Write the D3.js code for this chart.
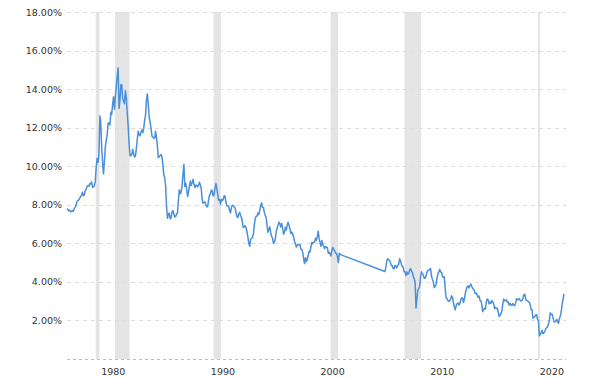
<!DOCTYPE html>
<html>
<head>
<meta charset="utf-8">
<script src="https://cdn.jsdelivr.net/npm/d3@7"></script>
<style>
  body { margin: 0; background: #fff; }
  text { font-family: "DejaVu Sans", Verdana, sans-serif; font-size: 9.5px; fill: #333; }
</style>
</head>
<body>
<div id="container"></div>
<script>
/**
 * CONSTANTS AND DATA
 * */
const width = 600,
  height = 378;

// 30 year treasury yield, monthly, Feb 1977 -> Feb 2002
const yieldsEarly = [
  7.80, 7.76, 7.68, 7.72, 7.64, 7.66, 7.70, 7.66, 7.80, 7.88, 7.98,          // 1977
  8.18, 8.22, 8.25, 8.34, 8.43, 8.50, 8.65, 8.47, 8.50, 8.75, 8.80, 8.95,    // 1978
  9.00, 8.96, 9.10, 9.08, 9.19, 8.91, 8.92, 9.00, 9.20, 9.95, 10.40, 10.20,  // 1979
  10.60, 12.60, 12.30, 11.00, 10.20, 9.60, 10.24, 11.00, 11.34, 11.65, 12.23, 12.25, // 1980
  12.14, 12.80, 12.69, 13.20, 13.60, 12.96, 13.59, 14.17, 14.67, 15.10, 13.00, 13.45, // 1981
  14.22, 14.22, 13.53, 13.37, 13.24, 13.92, 13.55, 12.77, 12.07, 11.17, 10.54, 10.54, // 1982
  10.63, 10.88, 10.63, 10.48, 10.53, 10.93, 11.40, 11.82, 11.63, 11.58, 11.75, 11.88, // 1983
  11.75, 11.95, 12.38, 12.65, 13.45, 13.75, 13.21, 12.54, 12.29, 11.98, 11.56, 11.52, // 1984
  11.45, 11.47, 11.81, 11.47, 11.05, 10.44, 10.50, 10.56, 10.61, 10.50, 10.06, 9.54,  // 1985
  9.40, 8.93, 7.96, 7.30, 7.52, 7.57, 7.27, 7.33, 7.62, 7.70, 7.52, 7.37,    // 1986
  7.39, 7.54, 7.55, 8.25, 8.78, 8.57, 8.64, 8.97, 9.59, 10.10, 8.95, 9.12,   // 1987
  8.83, 8.43, 8.63, 8.95, 9.23, 9.00, 9.14, 9.32, 9.06, 8.89, 9.02, 9.01,    // 1988
  8.93, 9.01, 9.17, 9.03, 8.83, 8.27, 8.08, 8.12, 8.15, 8.00, 7.90, 7.90,    // 1989
  8.26, 8.50, 8.56, 8.76, 8.73, 8.46, 8.50, 8.86, 9.10, 8.86, 8.54, 8.24,    // 1990
  8.27, 8.03, 8.29, 8.21, 8.27, 8.47, 8.45, 8.14, 7.95, 7.93, 7.92, 7.70,    // 1991
  7.58, 7.85, 7.97, 7.96, 7.89, 7.84, 7.60, 7.39, 7.34, 7.53, 7.61, 7.44,    // 1992
  7.34, 7.09, 6.82, 6.85, 6.92, 6.81, 6.63, 6.32, 6.00, 5.85, 6.21, 6.25,    // 1993
  6.29, 6.49, 6.91, 7.27, 7.41, 7.40, 7.58, 7.49, 7.71, 7.94, 8.10, 7.87,    // 1994
  7.85, 7.61, 7.45, 7.36, 6.95, 6.57, 6.72, 6.86, 6.55, 6.37, 6.26, 6.00,    // 1995
  6.05, 6.24, 6.60, 6.79, 6.93, 7.10, 7.03, 6.84, 7.03, 6.81, 6.48, 6.55,    // 1996
  6.83, 6.69, 6.93, 7.09, 6.94, 6.77, 6.51, 6.58, 6.50, 6.33, 6.11, 5.99,    // 1997
  5.81, 5.89, 5.95, 5.92, 5.93, 5.70, 5.68, 5.54, 5.20, 4.95, 5.25, 5.06,    // 1998
  5.16, 5.37, 5.58, 5.55, 5.81, 6.04, 5.98, 6.07, 6.07, 6.26, 6.15, 6.35,    // 1999
  6.63, 6.23, 6.05, 5.85, 6.15, 5.93, 5.85, 5.72, 5.83, 5.80, 5.78, 5.49,    // 2000
  5.54, 5.45, 5.34, 5.65, 5.78, 5.67, 5.61, 5.48, 5.48, 5.32, 5.00, 5.48,    // 2001
  5.45, 5.40                                                                 // 2002
];

// monthly, Feb 2006 -> Jun 2022 (series was not issued in between)
const yieldsLate = [
  4.54, 4.73, 5.06, 5.20, 5.15, 5.13, 5.00, 4.85, 4.85, 4.69, 4.68,          // 2006
  4.85, 4.82, 4.72, 4.87, 4.90, 5.20, 5.11, 4.93, 4.79, 4.77, 4.52, 4.53,    // 2007
  4.33, 4.52, 4.39, 4.44, 4.60, 4.69, 4.57, 4.50, 4.27, 4.17, 4.00, 2.65,    // 2008
  3.13, 3.59, 3.64, 3.76, 4.23, 4.52, 4.41, 4.37, 4.19, 4.19, 4.31, 4.49,    // 2009
  4.60, 4.62, 4.64, 4.69, 4.29, 4.13, 3.99, 3.70, 3.77, 3.87, 4.19, 4.42,    // 2010
  4.52, 4.65, 4.51, 4.50, 4.29, 4.23, 4.27, 3.65, 3.18, 3.13, 3.02, 2.98,    // 2011
  3.03, 3.11, 3.28, 3.18, 2.93, 2.70, 2.55, 2.77, 2.88, 2.90, 2.80, 2.88,    // 2012
  3.08, 3.17, 3.16, 2.93, 3.11, 3.40, 3.61, 3.76, 3.79, 3.68, 3.80, 3.89,    // 2013
  3.77, 3.66, 3.62, 3.52, 3.39, 3.42, 3.33, 3.20, 3.26, 3.04, 3.04, 2.83,    // 2014
  2.46, 2.57, 2.63, 2.59, 2.96, 3.11, 3.07, 2.86, 2.95, 2.89, 3.03, 2.97,    // 2015
  2.86, 2.62, 2.68, 2.62, 2.63, 2.45, 2.20, 2.26, 2.35, 2.50, 2.86, 3.11,    // 2016
  3.02, 3.03, 3.08, 2.94, 2.96, 2.80, 2.88, 2.80, 2.78, 2.88, 2.80, 2.77,    // 2017
  2.88, 3.13, 3.09, 3.07, 3.13, 3.05, 3.01, 3.04, 3.15, 3.34, 3.36, 3.10,    // 2018
  3.04, 3.02, 2.98, 2.94, 2.82, 2.57, 2.57, 2.12, 2.16, 2.19, 2.28, 2.30,    // 2019
  2.07, 1.97, 1.20, 1.27, 1.38, 1.49, 1.31, 1.36, 1.42, 1.57, 1.62, 1.67,    // 2020
  1.82, 2.04, 2.40, 2.30, 2.32, 2.16, 1.94, 1.92, 1.94, 2.06, 1.94, 1.85,    // 2021
  2.10, 2.25, 2.45, 2.85, 3.10, 3.38                                         // 2022
];

// shaded recession bands, as placed on the chart
const recessionStart = ["1979-10-01", "1981-07-01", "1990-07-01", "2001-03-01", "2007-12-01", "2020-02-01"];
const recessionEnd   = ["1980-02-01", "1982-11-01", "1991-03-01", "2001-11-01", "2009-06-01", "2020-04-01"];

const yTicks = [2, 4, 6, 8, 10, 12, 14, 16, 18];
const xTickYears = [1980, 1990, 2000, 2010, 2020];

/**
 * BUILD SERIES
 * */
const parse = d3.timeParse("%Y-%m-%d");
const series = [
  ...yieldsEarly.map((v, i) => ({ date: new Date(1977, 1 + i, 15), value: v })),
  ...yieldsLate.map((v, i) => ({ date: new Date(2006, 1 + i, 15), value: v }))
];

/**
 * SCALES
 * */
const x = d3.scaleTime()
  .domain([new Date(1977, 1, 15), new Date(2022, 5, 15)])
  .range([67, 564]);

const y = d3.scaleLinear()
  .domain([0, 18])
  .range([359, 12]);

const plotLeft = 67, plotRight = 566;

const svg = d3.select("#container")
  .append("svg")
  .attr("width", width)
  .attr("height", height);

// recession bands
svg.selectAll("rect.band")
  .data(recessionStart.map((s, i) => [parse(s), parse(recessionEnd[i])]))
  .join("rect")
  .attr("class", "band")
  .attr("x", d => x(d[0]))
  .attr("width", d => Math.max(2, x(d[1]) - x(d[0])))
  .attr("y", y(18))
  .attr("height", y(0) - y(18))
  .attr("fill", "#e4e4e4");

// grid lines
svg.selectAll("line.grid")
  .data(yTicks)
  .join("line")
  .attr("class", "grid")
  .attr("x1", plotLeft)
  .attr("x2", plotRight)
  .attr("y1", d => Math.round(y(d)) + 0.5)
  .attr("y2", d => Math.round(y(d)) + 0.5)
  .attr("stroke", "#dcdcdc")
  .attr("stroke-dasharray", "4,4");

// base line
svg.append("line")
  .attr("x1", plotLeft)
  .attr("x2", plotRight)
  .attr("y1", Math.round(y(0)) + 0.5)
  .attr("y2", Math.round(y(0)) + 0.5)
  .attr("stroke", "#bdbdbd")
  .attr("stroke-dasharray", "3,3");

// y labels
svg.selectAll("text.ylab")
  .data(yTicks)
  .join("text")
  .attr("class", "ylab")
  .attr("x", 62)
  .attr("y", d => y(d) + 3.5)
  .attr("text-anchor", "end")
  .text(d => d3.format(".2f")(d) + "%");

// x labels (the chart puts them a little right of the year start)
svg.selectAll("text.xlab")
  .data(xTickYears)
  .join("text")
  .attr("class", "xlab")
  .attr("x", d => x(new Date(d + 1, 4, 8)))
  .attr("y", 375)
  .attr("text-anchor", "middle")
  .text(d => d);

// line
const lineGen = d3.line()
  .x(d => x(d.date))
  .y(d => y(d.value));

svg.append("path")
  .datum(series)
  .attr("d", lineGen)
  .attr("fill", "none")
  .attr("stroke", "#4a90d9")
  .attr("stroke-width", 1.5)
  .attr("stroke-linejoin", "round");
</script>
</body>
</html>
